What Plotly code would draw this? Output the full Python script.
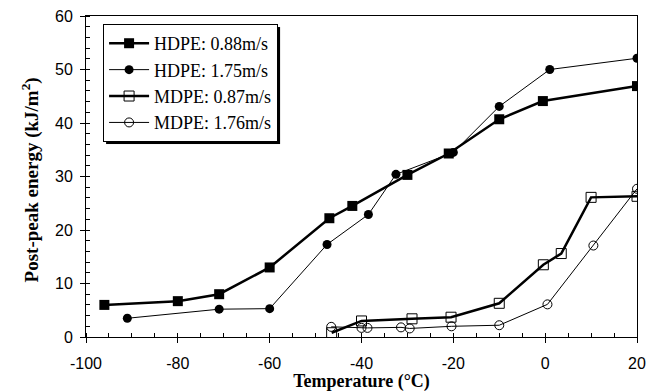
import plotly.graph_objects as go

# HDPE 0.88 m/s
hd088_t = [-96, -80, -71, -60, -47, -42, -30, -21, -10, -0.5, 20]
hd088_e = [6.0, 6.7, 8.0, 13.0, 22.2, 24.5, 30.3, 34.3, 40.7, 44.1, 46.9]
# HDPE 1.75 m/s
hd175_t = [-91, -71, -60, -47.5, -38.5, -32.5, -20, -10, 1, 20]
hd175_e = [3.5, 5.2, 5.3, 17.3, 22.9, 30.4, 34.5, 43.1, 50.0, 52.1]
# MDPE 0.87 m/s
md087_t = [-46.5, -40, -29, -20.5, -10, -0.4, 3.5, 10, 20]
md087_e = [0.8, 3.0, 3.4, 3.7, 6.3, 13.5, 15.6, 26.1, 26.3]
# MDPE 1.76 m/s
md176_t = [-46.6, -40, -38.7, -31.4, -29.5, -20.4, -10, 0.5, 10.5, 20]
md176_e = [1.9, 1.7, 1.7, 1.8, 1.6, 2.0, 2.2, 6.1, 17.1, 27.7]

names = ["HDPE: 0.88m/s", "HDPE: 1.75m/s", "MDPE: 0.87m/s", "MDPE: 1.76m/s"]

x_ticks = [-100, -80, -60, -40, -20, 0, 20]
x_ticktext = ["-100", "-80", "-60", "-40", "-20", "0", "20"]
y_ticks = [0, 10, 20, 30, 40, 50, 60]
y_ticktext = ["0", "10", "20", "30", "40", "50", "60"]

x_title = "<b>Temperature (°C)</b>"
y_title = "<b>Post-peak energy (kJ/m<sup>2</sup>)</b>"

fig = go.Figure()
fig.add_trace(go.Scatter(x=hd088_t, y=hd088_e, name=names[0], mode="lines+markers",
                         line=dict(color="black", width=2.5),
                         marker=dict(symbol="square", size=10, color="black")))
fig.add_trace(go.Scatter(x=hd175_t, y=hd175_e, name=names[1], mode="lines+markers",
                         line=dict(color="black", width=1),
                         marker=dict(symbol="circle", size=9, color="black")))
fig.add_trace(go.Scatter(x=md087_t, y=md087_e, name=names[2], mode="lines+markers",
                         line=dict(color="black", width=2.5),
                         marker=dict(symbol="square-open", size=10, color="black",
                                     line=dict(width=1))))
fig.add_trace(go.Scatter(x=md176_t, y=md176_e, name=names[3], mode="lines+markers",
                         line=dict(color="black", width=1),
                         marker=dict(symbol="circle-open", size=9, color="black",
                                     line=dict(width=1))))

fig.add_annotation(text=y_title, xref="paper", yref="paper", x=-0.1, y=0.5,
                   xanchor="center", yanchor="middle", textangle=-90, showarrow=False,
                   yshift=-3, font=dict(family="Liberation Serif", size=19, color="black"))

fig.update_layout(
    width=660, height=392,
    margin=dict(l=86, r=23, t=16, b=55, autoexpand=False),
    paper_bgcolor="white", plot_bgcolor="white",
    showlegend=True,
    legend=dict(x=0.031, y=0.975, xanchor="left", yanchor="top",
                bgcolor="white", bordercolor="black", borderwidth=1,
                itemwidth=40,
                font=dict(family="Liberation Serif", size=18, color="black"),
                tracegroupgap=0),
    font=dict(family="Liberation Sans", color="black"),
)
fig.update_xaxes(range=[-100, 20], tickmode="array", tickvals=x_ticks, ticktext=x_ticktext,
                 automargin=False,
                 showgrid=False, zeroline=False,
                 showline=True, linecolor="black", linewidth=1, mirror=True,
                 ticks="outside", ticklen=5, tickcolor="black",
                 ticklabelstandoff=7,
                 tickfont=dict(family="Liberation Sans", size=16),
                 minor=dict(dtick=5, tick0=0, ticks="inside", ticklen=4, tickcolor="black", showgrid=False),
                 title=dict(text=x_title,
                            font=dict(family="Liberation Serif", size=18), standoff=4))
fig.update_yaxes(range=[0, 60], tickmode="array", tickvals=y_ticks, ticktext=y_ticktext,
                 automargin=False,
                 showgrid=False, zeroline=False,
                 showline=True, linecolor="black", linewidth=1, mirror=True,
                 ticks="outside", ticklen=5, tickcolor="black",
                 ticklabelstandoff=4,
                 tickfont=dict(family="Liberation Sans", size=16),
                 minor=dict(dtick=2, tick0=0, ticks="inside", ticklen=4, tickcolor="black", showgrid=False))

# legend drop shadow, sized to the rendered legend box after drawing
post = """
document.body.style.margin='0';document.body.style.padding='0';
var gd = document.getElementsByClassName('plotly-graph-div')[0];
function addShadow(){
  var bg = gd.querySelector('.legend .bg');
  var leg = gd.querySelector('.legend');
  if(!bg || !leg) return;
  var old = gd.querySelector('.legend-shadow'); if(old) old.remove();
  var w = parseFloat(bg.getAttribute('width')), h = parseFloat(bg.getAttribute('height'));
  var ns = 'http://www.w3.org/2000/svg';
  var r = document.createElementNS(ns, 'rect');
  r.setAttribute('class','legend-shadow');
  r.setAttribute('x', 3); r.setAttribute('y', 3);
  r.setAttribute('width', w); r.setAttribute('height', h);
  r.setAttribute('fill', 'black');
  leg.insertBefore(r, leg.firstChild);
}
addShadow();
gd.on('plotly_afterplot', addShadow);
"""
fig.write_html("out.html", config={"displayModeBar": False}, post_script=post)
